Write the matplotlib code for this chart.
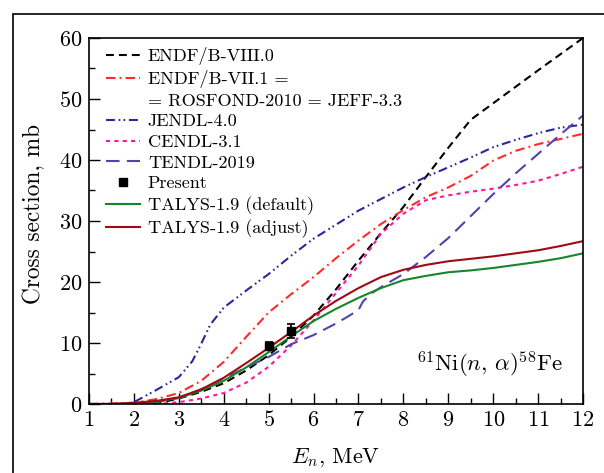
import matplotlib
matplotlib.use("Agg")
import matplotlib.pyplot as plt
from matplotlib.patches import Rectangle
from matplotlib.lines import Line2D
from matplotlib.ticker import MultipleLocator

plt.rcParams['font.family'] = 'serif'
plt.rcParams['font.serif'] = ['cmr10']
plt.rcParams['mathtext.fontset'] = 'cm'
plt.rcParams['axes.unicode_minus'] = False
plt.rcParams['axes.formatter.use_mathtext'] = True

# ENDF/B-VIII.0
e_endf8 = [1, 2, 2.5, 3, 3.5, 4, 4.5, 5, 5.5, 6, 6.5, 7, 7.5, 8, 8.5, 9, 9.5, 10, 11, 12]
s_endf8 = [0, 0, 0.1, 0.9, 2.0, 3.4, 5.5, 8.0, 11.0, 14.5, 18.8, 23.5, 28.0, 32.3, 37.2, 42.0, 46.6, 49.3, 54.7, 60.0]

# ENDF/B-VII.1 = ROSFOND-2010 = JEFF-3.3
e_endf7 = [1, 2, 2.5, 3, 3.5, 4, 4.5, 5, 5.5, 6, 6.5, 7, 7.5, 8, 8.5, 9, 9.5, 10, 10.5, 11, 12]
s_endf7 = [0, 0.2, 0.8, 1.8, 3.8, 6.9, 11.0, 15.0, 18.0, 20.8, 23.9, 26.8, 29.5, 31.8, 33.9, 35.5, 37.4, 39.9, 41.5, 42.6, 44.3]

# JENDL-4.0
e_jendl = [1, 1.8, 2, 2.5, 3, 3.3, 3.5, 3.7, 4, 4.5, 5, 5.5, 6, 6.5, 7, 7.5, 8, 8.5, 9, 9.5, 10, 10.5, 11, 11.5, 12]
s_jendl = [0, 0, 0.3, 2.3, 4.4, 7.0, 9.9, 13.0, 15.8, 18.6, 21.3, 24.3, 27.1, 29.4, 31.7, 33.6, 35.5, 37.2, 38.8, 40.4, 42.1, 43.3, 44.4, 45.3, 45.8]

# CENDL-3.1
e_cendl = [1, 2.5, 3, 3.5, 4, 4.5, 5, 5.5, 6, 6.5, 7, 7.5, 8, 8.5, 9, 9.5, 10, 10.5, 11, 11.5, 12]
s_cendl = [0, 0, 0.3, 0.9, 1.8, 3.5, 6.1, 9.6, 13.7, 18.2, 22.7, 27.9, 31.2, 33.4, 34.2, 34.8, 35.3, 35.9, 36.6, 37.7, 38.9]

# TENDL-2019
e_tendl = [1, 2, 2.5, 3, 3.5, 4, 4.5, 5, 5.5, 6, 6.5, 6.8, 7.0, 7.1, 7.3, 7.6, 8, 8.5, 9, 9.5, 10, 10.5, 11, 11.5, 12]
s_tendl = [0, 0, 0.3, 1.0, 2.4, 4.2, 6.0, 7.7, 9.8, 11.3, 13.2, 14.5, 15.4, 16.8, 18.2, 19.6, 21.3, 24.1, 27.2, 30.8, 34.4, 37.8, 41.0, 44.2, 47.3]

# TALYS-1.9 (default)
e_tal_def = [1, 1.5, 2, 2.5, 3, 3.5, 4, 4.5, 5, 5.5, 6, 6.5, 7, 7.5, 8, 8.5, 9, 9.5, 10, 10.5, 11, 11.5, 12]
s_tal_def = [0, 0, 0.1, 0.4, 1.0, 2.2, 3.8, 6.0, 8.5, 11.1, 13.6, 15.6, 17.4, 19.0, 20.3, 21.0, 21.6, 21.9, 22.3, 22.8, 23.3, 23.9, 24.7]

# TALYS-1.9 (adjust)
e_tal_adj = [1, 1.5, 2, 2.5, 3, 3.5, 4, 4.5, 5, 5.5, 6, 6.5, 7, 7.5, 8, 8.5, 9, 9.5, 10, 10.5, 11, 11.5, 12]
s_tal_adj = [0, 0, 0.2, 0.5, 1.1, 2.4, 4.3, 6.7, 9.2, 11.8, 14.5, 16.9, 19.0, 20.8, 22.0, 22.8, 23.4, 23.8, 24.2, 24.7, 25.2, 25.9, 26.7]

# Present
e_present = [5.0, 5.5]
s_present = [9.5, 12.0]
err_present = [0.7, 1.1]

fig = plt.figure(figsize=(6.04, 4.73), dpi=100)
ax = fig.add_axes([89/604, 1-404/473, 494/604, 366/473])

# outer frame, only its left and top edges fall inside the picture
fig.patches.append(Rectangle((12.5/604, -0.1), 1.2, 1 - 14/473 + 0.1, transform=fig.transFigure,
                             fill=False, edgecolor='black', lw=1.2))

lw = 1.5
h1, = ax.plot(e_endf8, s_endf8, color='black', lw=lw, ls=(0, (3.8, 2.4)))
h2, = ax.plot(e_endf7, s_endf7, color='#ff2a2a', lw=lw, ls=(0, (4.5, 2.0, 0.9, 2.0)))
h2b = Line2D([], [], color='none')  # second line of the ENDF/B-VII.1 label
h3, = ax.plot(e_jendl, s_jendl, color='#28289a', lw=lw, ls=(0, (4.3, 1.8, 0.8, 1.5, 0.8, 1.8)))
h4, = ax.plot(e_cendl, s_cendl, color='#ff16a0', lw=lw, ls=(0, (2.0, 2.0)))
h5, = ax.plot(e_tendl, s_tendl, color='#5044ae', lw=lw, ls=(0, (6.5, 3.5)))
ax.errorbar(e_present, s_present, yerr=err_present, fmt='s', color='black', ms=5.5,
            elinewidth=1.2, capsize=2.8, capthick=1.2, zorder=5)
h6 = Line2D([], [], ls='none', marker='s', ms=5.5, color='black')
h7, = ax.plot(e_tal_def, s_tal_def, color='#17862a', lw=lw)
h8, = ax.plot(e_tal_adj, s_tal_adj, color='#a00a14', lw=lw)

ax.set_xlim(1, 12)
ax.set_ylim(0, 60)
ax.xaxis.set_major_locator(MultipleLocator(1))
ax.xaxis.set_minor_locator(MultipleLocator(0.5))
ax.yaxis.set_major_locator(MultipleLocator(10))
ax.yaxis.set_minor_locator(MultipleLocator(5))
ax.tick_params(which='both', direction='in', top=False, right=False, labelsize=16)
ax.tick_params(which='major', length=8, width=1)
ax.tick_params(which='minor', length=4.5, width=1)
ax.tick_params(axis='x', pad=4.5)
ax.tick_params(axis='y', pad=5)
for sp in ax.spines.values():
    sp.set_linewidth(1.2)

ax.set_xlabel(r'$E_n$, MeV', fontsize=16)
ax.set_ylabel('Cross section, mb', fontsize=16.8)
ax.xaxis.set_label_coords(0.5, -0.115)
ax.yaxis.set_label_coords(-0.089, 0.519)

ax.text(0.96, 0.109, r'$^{61}\mathrm{Ni}(n,\,\alpha)^{58}\mathrm{Fe}$', transform=ax.transAxes,
        ha='right', va='center', fontsize=16.5)

handles = [h1, h2, h2b, h3, h4, h5, h6, h7, h8]
labels = ['ENDF/B-VIII.0', 'ENDF/B-VII.1 =', '= ROSFOND-2010 = JEFF-3.3', 'JENDL-4.0',
          'CENDL-3.1', 'TENDL-2019', 'Present', 'TALYS-1.9 (default)', 'TALYS-1.9 (adjust)']
ax.legend(handles, labels, loc='upper left', bbox_to_anchor=(0.034, 0.975), frameon=False,
          fontsize=13.1, handlelength=1.87, handletextpad=0.44, labelspacing=0.27,
          borderaxespad=0, borderpad=0)

fig.savefig('out.png', dpi=100)
